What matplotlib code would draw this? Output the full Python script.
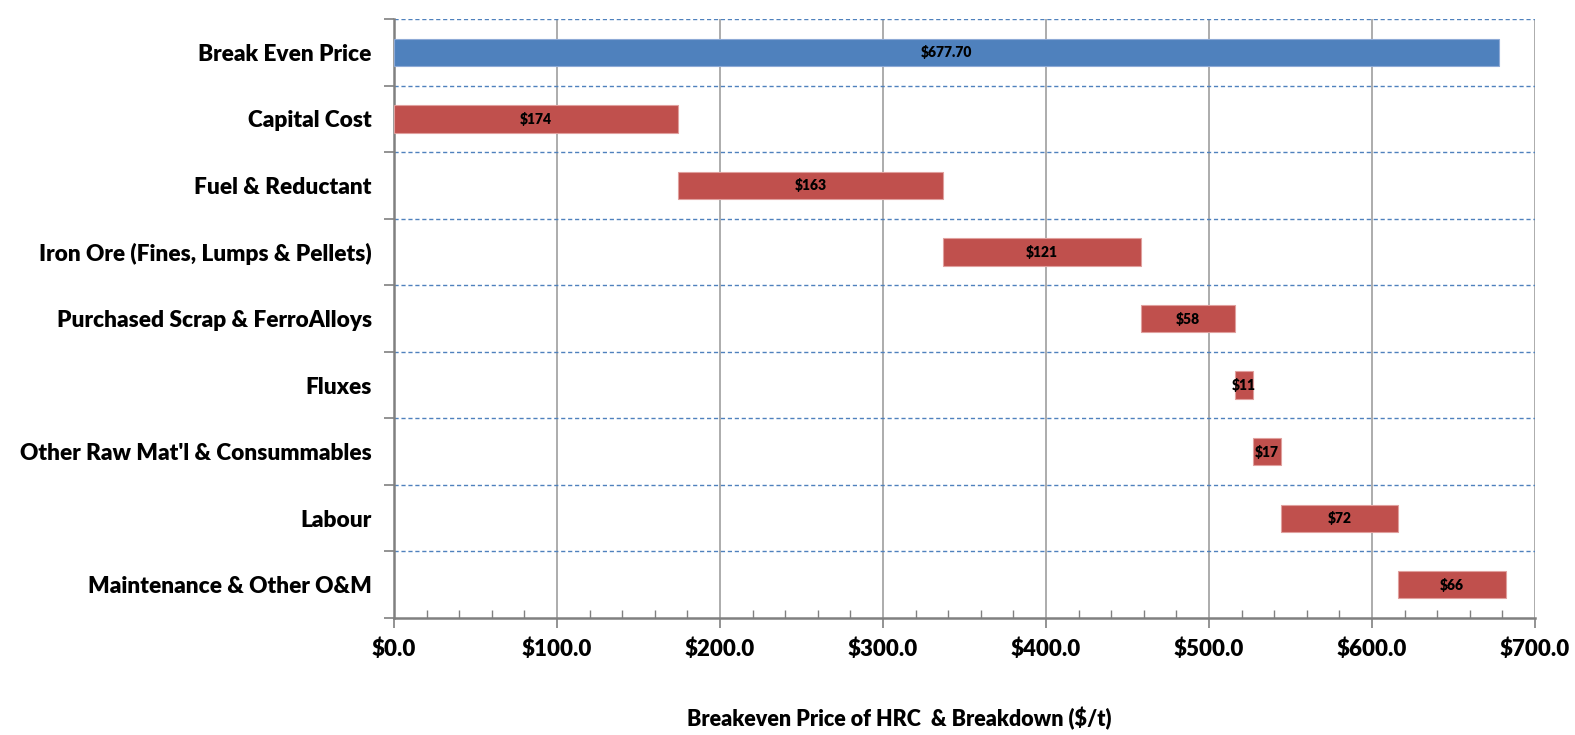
import matplotlib
matplotlib.use("Agg")
import matplotlib.pyplot as plt
from matplotlib.ticker import MultipleLocator, FuncFormatter

plt.rcParams['font.family'] = ['Lato', 'DejaVu Sans']

categories = ["Break Even Price", "Capital Cost", "Fuel & Reductant",
              "Iron Ore (Fines, Lumps & Pellets)", "Purchased Scrap & FerroAlloys",
              "Fluxes", "Other Raw Mat'l & Consummables", "Labour",
              "Maintenance & Other O&M"]
break_even = 677.70
components = [174, 163, 121, 58, 11, 17, 72, 66]
x_ticks = [0, 100, 200, 300, 400, 500, 600, 700]

W = "heavy"

fig = plt.figure(figsize=(15.75, 7.35), dpi=100)
ax = fig.add_axes([0.2502, 0.1592, 0.7244, 0.8149])

n = len(categories)
ypos = list(range(n))
blue = "#4F81BD"
red = "#C0504D"
h = 0.41

# total bar
ax.barh(0, break_even, height=h, color=blue, edgecolor="#8EAAD6", linewidth=0.8, zorder=3)
ax.text(break_even / 2, 0, f"${break_even:.2f}", ha="center", va="center",
        fontsize=10, fontweight=W, zorder=4)

# floating component bars
left = 0
for i, v in enumerate(components, start=1):
    ax.barh(i, v, left=left, height=h, color=red, edgecolor="#E0A09E", linewidth=0.8, zorder=3)
    ax.text(left + v / 2, i, f"${v}", ha="center", va="center",
            fontsize=10, fontweight=W, zorder=4)
    left += v

ax.set_xlim(0, 700)
ax.set_ylim(n - 0.5, -0.5)

ax.set_xticks(x_ticks)
ax.xaxis.set_major_formatter(FuncFormatter(lambda x, p: f"${x:.1f}"))
ax.xaxis.set_minor_locator(MultipleLocator(20))
ax.tick_params(axis="x", which="major", direction="out", length=7, width=1.2,
               color="#808080", labelsize=16, pad=8)
ax.tick_params(axis="x", which="minor", direction="in", length=6, width=1,
               color="#808080")
for lab in ax.get_xticklabels():
    lab.set_fontweight(W)

# y ticks at row boundaries, labels at row centers
ax.set_yticks([i - 0.5 for i in range(n + 1)])
ax.set_yticklabels([])
ax.set_yticks(ypos, minor=True)
ax.set_yticklabels(categories, minor=True, fontsize=16.3, fontweight=W)
ax.tick_params(axis="y", which="major", direction="out", length=7, width=1.2, color="#808080")
ax.tick_params(axis="y", which="minor", length=0, pad=16)

# grid
for xv in x_ticks[1:]:
    ax.axvline(xv, color="#A6A6A6", linewidth=1.3, zorder=1)
for i in range(n):
    ax.axhline(i - 0.5, color="#4F81BD", linewidth=1, linestyle=(0, (3, 2)), zorder=1)

for side in ["top", "right"]:
    ax.spines[side].set_visible(False)
for side in ["left", "bottom"]:
    ax.spines[side].set_color("#808080")
    ax.spines[side].set_linewidth(1.8)

fig.text(0.571, 0.006, "Breakeven Price of HRC  & Breakdown ($/t)", ha="center",
         va="bottom", fontsize=15.5, fontweight=W)

fig.savefig("out.png", dpi=100)
